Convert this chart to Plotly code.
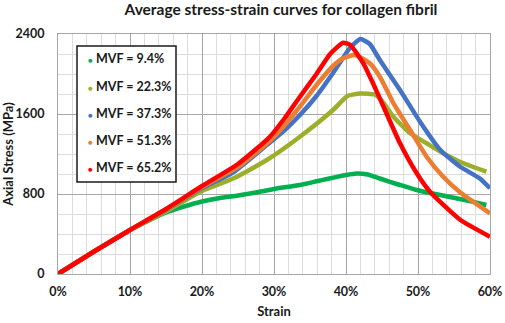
import plotly.graph_objects as go

# ---- data (strain in %, stress in MPa) ----
labels = ["MVF = 9.4%", "MVF = 22.3%", "MVF = 37.3%", "MVF = 51.3%", "MVF = 65.2%"]
colors = ["#00B050", "#9BAF2A", "#4472C4", "#ED7D31", "#FF0000"]

strain_94 = [0, 5, 10, 15, 17.5, 20, 22.5, 25, 27.5, 30, 33.6, 36.4, 40, 41.5, 43, 44.7, 47.5, 49.8, 53.1, 55.8, 57.5, 59.5]
stress_94 = [0, 225, 440, 615, 675, 725, 760, 785, 815, 850, 890, 935, 990, 1005, 995, 955, 890, 840, 790, 750, 725, 690]

strain_223 = [0, 5, 10, 15, 20, 24.4, 29, 33.6, 38.2, 40.2, 42, 44, 45, 46.6, 48.9, 51.2, 53.5, 55.8, 59.5]
stress_223 = [0, 225, 440, 625, 830, 957, 1140, 1373, 1640, 1780, 1805, 1795, 1730, 1573, 1407, 1307, 1207, 1123, 1023]

strain_373 = [0, 5, 10, 15, 20, 24.4, 29, 31.5, 33.6, 35.9, 38.2, 40.6, 42, 43.3, 44.7, 47.5, 50.3, 53.1, 55.8, 58.6, 60]
stress_373 = [0, 225, 440, 640, 860, 1020, 1290, 1440, 1590, 1780, 2010, 2265, 2350, 2300, 2140, 1840, 1520, 1240, 1075, 955, 857]

strain_513 = [0, 5, 10, 15, 20, 25, 29.4, 31.5, 33.6, 35.9, 38.2, 39.6, 41.2, 43.3, 44.7, 46.6, 48.9, 51.2, 53.5, 55.8, 60]
stress_513 = [0, 225, 440, 645, 870, 1070, 1330, 1490, 1673, 1890, 2080, 2157, 2190, 2107, 1973, 1707, 1440, 1173, 973, 820, 607]

strain_652 = [0, 5, 10, 15, 20, 25, 29.4, 31.5, 33.6, 35.9, 37.8, 39.6, 40.6, 42.4, 43.8, 45.6, 47.5, 49.8, 51.7, 55.8, 60]
stress_652 = [0, 225, 440, 650, 880, 1100, 1370, 1560, 1773, 2000, 2200, 2313, 2290, 2107, 1900, 1610, 1307, 1010, 820, 545, 373]

series_x = [strain_94, strain_223, strain_373, strain_513, strain_652]
series_y = [stress_94, stress_223, stress_373, stress_513, stress_652]

title_text = "Average stress-strain curves for collagen fibril"
x_title = "Strain"
y_title = "Axial Stress (MPa)"

FONT = "Lato, 'Open Sans', sans-serif"
INK = "#1a1a1a"

fig = go.Figure()
for xs, ys, name, c in zip(series_x, series_y, labels, colors):
    fig.add_trace(go.Scatter(
        x=xs, y=ys, name=name, mode="lines",
        line=dict(color=c, width=4.5, shape="spline", smoothing=0.5),
        showlegend=False, hoverinfo="x+y+name",
    ))

# manual legend box (to match spacing of the original)
fig.add_shape(type="rect", xref="paper", yref="paper",
              x0=(77 - 58) / 432, x1=(176 - 58) / 432,
              y0=(274 - 182) / 240, y1=(274 - 46) / 240,
              line=dict(color=INK, width=1.5), fillcolor="white", layer="above")
legend_y_px = [59, 86, 113, 140, 167]
for name, c, ypx in zip(labels, colors, legend_y_px):
    fig.add_annotation(
        xref="paper", yref="paper", x=(86 - 58) / 432, y=(274 - ypx) / 240,
        xanchor="left", yanchor="middle", showarrow=False,
        text=f"<span style='color:{c};font-size:8px'>●</span> <b>{name}</b>",
        font=dict(family=FONT, size=12.5, color=INK),
    )

fig.update_layout(
    width=505, height=323,
    margin=dict(l=58, r=15, t=34, b=49, autoexpand=False),
    paper_bgcolor="white", plot_bgcolor="white",
    font=dict(family=FONT, color=INK),
    title=dict(text=f"<b>{title_text}</b>", x=281 / 505, xanchor="center",
               y=1 - 10 / 323, yanchor="middle",
               font=dict(family=FONT, size=15.5, color=INK)),
    showlegend=False,
)

fig.update_xaxes(
    range=[0, 60], dtick=10, ticksuffix="%", automargin=False,
    showgrid=True, gridcolor="#A6A6A6", gridwidth=1,
    minor=dict(dtick=2, showgrid=True, gridcolor="#DCDCDC", gridwidth=1),
    showline=True, linecolor="#A6A6A6", mirror=True, zeroline=False,
    ticks="", ticklabelstandoff=6,
    tickfont=dict(family=FONT, size=12.5, color=INK, weight="bold"),
    title=dict(text=f"<b>{x_title}</b>", standoff=8,
               font=dict(family=FONT, size=13, color=INK)),
)
fig.update_yaxes(
    range=[0, 2400], dtick=800, automargin=False,
    showgrid=True, gridcolor="#A6A6A6", gridwidth=1,
    minor=dict(dtick=200, showgrid=True, gridcolor="#DCDCDC", gridwidth=1),
    showline=True, linecolor="#A6A6A6", mirror=True, zeroline=False,
    ticks="", ticklabelstandoff=10,
    tickfont=dict(family=FONT, size=12.5, color=INK, weight="bold"),
    title=dict(text=f"<b>{y_title}</b>", standoff=9,
               font=dict(family=FONT, size=13, color=INK)),
)

fig.write_html("out.html",
               config={"displayModeBar": False},
               post_script="document.body.style.margin='0';document.body.style.overflow='hidden';")
